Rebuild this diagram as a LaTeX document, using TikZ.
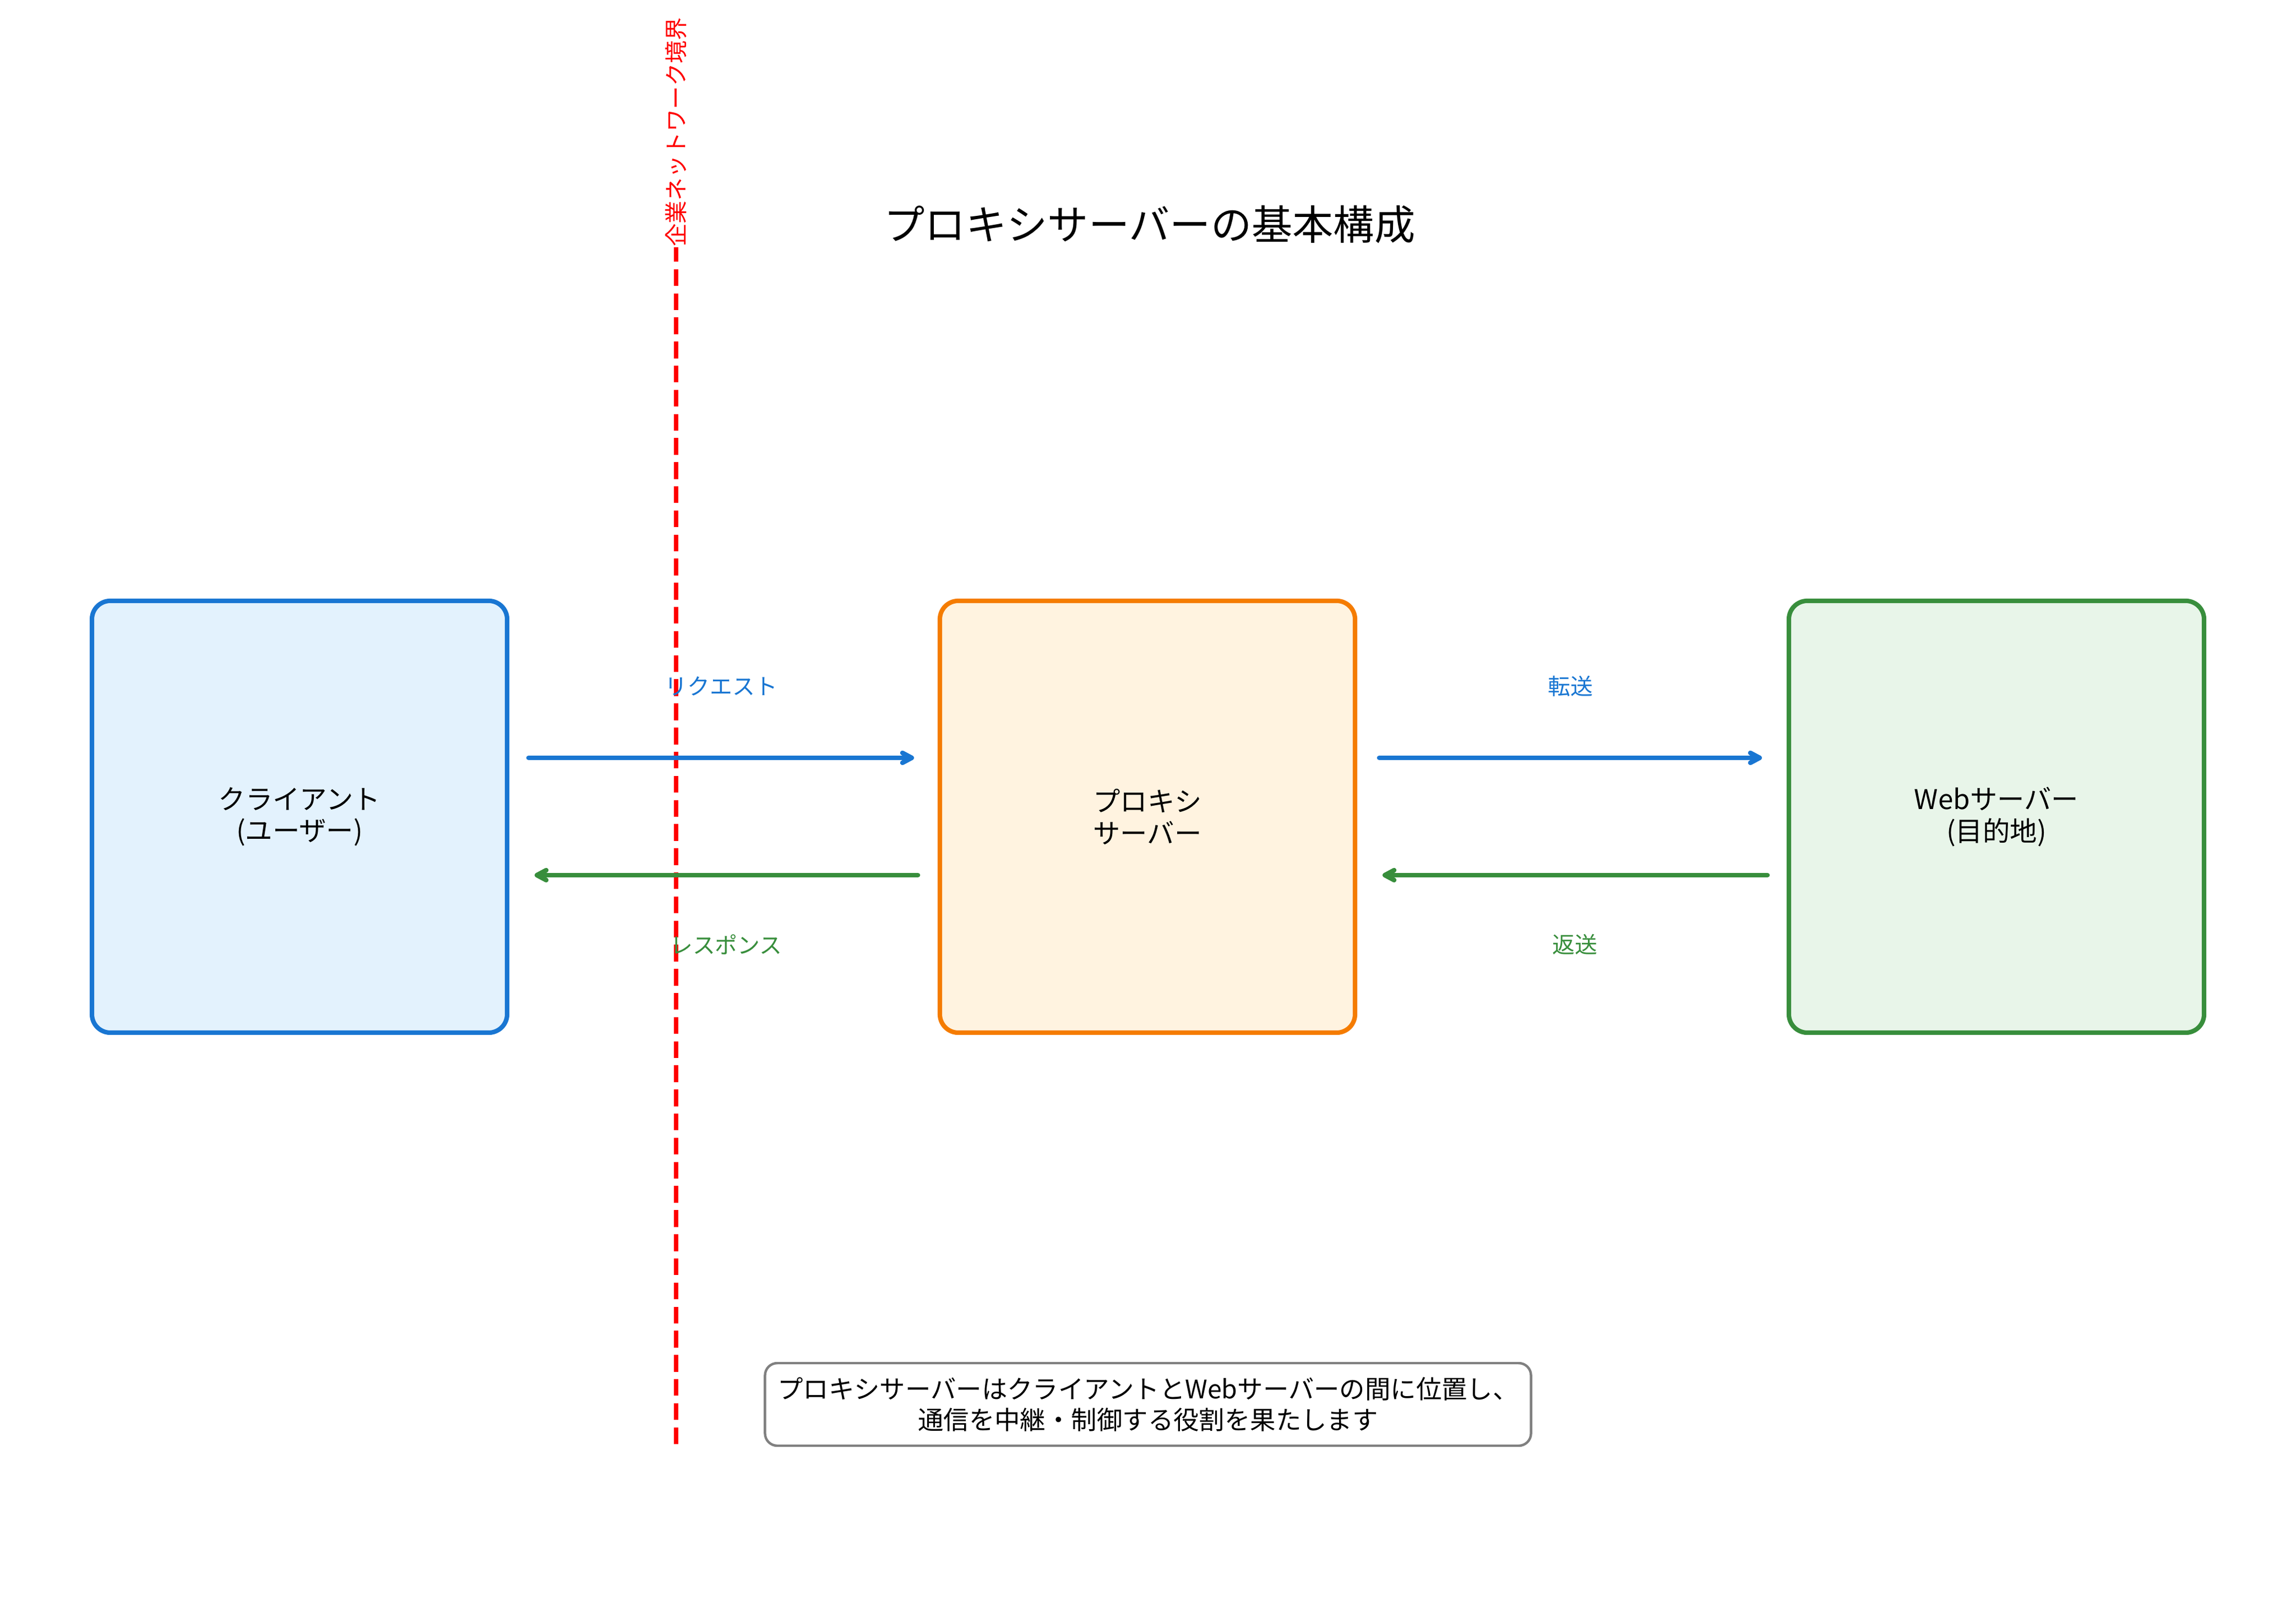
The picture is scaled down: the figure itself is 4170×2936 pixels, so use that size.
\documentclass[tikz,border=0pt]{standalone}
\usepackage{fontspec}
\setmainfont{Noto Sans CJK JP}
\usetikzlibrary{arrows.meta,calc}
\definecolor{cblue}{HTML}{1976D2}
\definecolor{cbluefill}{HTML}{E3F2FD}
\definecolor{corange}{HTML}{F57C00}
\definecolor{corangefill}{HTML}{FFF3E0}
\definecolor{cgreen}{HTML}{388E3C}
\definecolor{cgreenfill}{HTML}{E8F5E9}
\definecolor{cgray}{HTML}{808080}
\begin{document}
\begin{tikzpicture}[x=0.26935pt,y=-0.26935pt,
  box/.style={draw,line width=2.2pt,rounded corners=9pt,outer sep=0pt,
    minimum width=203.1pt,minimum height=211.2pt,align=center,
    font=\fontsize{13.3}{15.5}\selectfont},
  lbl/.style={font=\fontsize{11}{12}\selectfont},
  flow/.style={line width=2.3pt,line cap=round,
    -{Straight Barb[length=4.5pt,width=4.8pt,round]}},
  boundary/.style={draw=red,line width=2.3pt,dash pattern=on 8.2pt off 3.6pt}]
\useasboundingbox (0,0) rectangle (4170,2936);
\fill[white] (0,0) rectangle (4170,2936);
% boundary line
\coordinate (btop) at (1228,449);
\coordinate (bbot) at (1228,2622);
\draw[boundary] (bbot) -- (btop);
\node[text=red,rotate=90,font=\fontsize{11.2}{13}\selectfont] (blabel) at (1228,240) {企業ネットワーク境界};
% title
\node[font=\fontsize{20}{24}\selectfont] (title) at (2088,408) {プロキシサーバーの基本構成};
% boxes
\node[box,draw=cblue,fill=cbluefill] (client) at (544,1483) {クライアント\\(ユーザー)};
\node[box,draw=corange,fill=corangefill] (proxy) at (2084,1483) {プロキシ\\サーバー};
\node[box,draw=cgreen,fill=cgreenfill] (web) at (3626,1483) {Webサーバー\\(目的地)};
% arrows
\draw[flow,cblue] ($(client.east)+(39,-107)$) -- ($(proxy.west)+(-47,-107)$)
  node[midway,lbl,text=cblue,yshift=35pt] (reqlbl) {リクエスト};
\draw[flow,cgreen] ($(proxy.west)+(-40,106)$) -- ($(client.east)+(50,106)$)
  node[midway,lbl,text=cgreen,yshift=-34pt] (reslbl) {レスポンス};
\draw[flow,cblue] ($(proxy.east)+(44,-107)$) -- ($(web.west)+(-49,-107)$)
  node[midway,lbl,text=cblue,yshift=35pt] (fwdlbl) {転送};
\draw[flow,cgreen] ($(web.west)+(-39,106)$) -- ($(proxy.east)+(50,106)$)
  node[midway,lbl,text=cgreen,yshift=-34pt] (retlbl) {返送};
% note
\node[draw=cgray,line width=1.2pt,fill=white,rounded corners=6pt,
  minimum width=374.7pt,minimum height=40.4pt,align=center,
  font=\fontsize{12.5}{15}\selectfont] (note) at (2085,2550)
  {プロキシサーバーはクライアントとWebサーバーの間に位置し、\\通信を中継・制御する役割を果たします};
\end{tikzpicture}
\end{document}
